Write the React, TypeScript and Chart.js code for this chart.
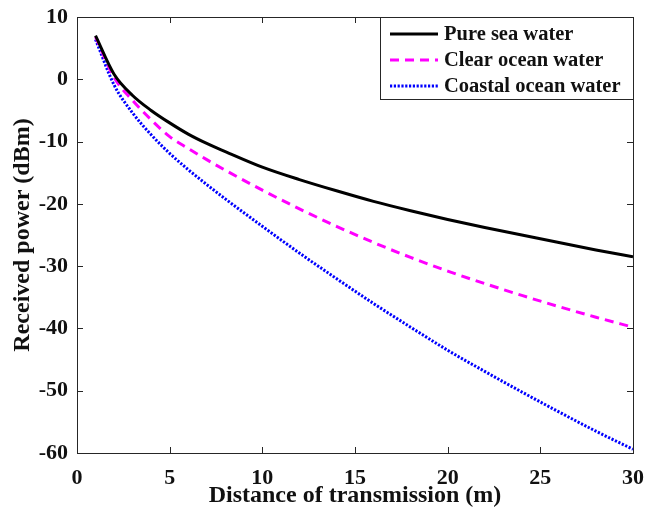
import React, { useEffect, useRef } from "react";
import { Chart, registerables } from "chart.js";

Chart.register(...registerables);

const distances = [1, 2, 3, 4, 5, 6, 7, 8, 10, 12, 14, 16, 18, 20, 22, 24, 26, 28, 30];
const pureSea = [7, 0.8, -2.6, -5.0, -7.0, -8.8, -10.3, -11.6, -14.1, -16.1, -17.9, -19.6, -21.1, -22.5, -23.8, -25.0, -26.2, -27.4, -28.5];
const clearOcean = [6.8, 0.3, -3.4, -6.5, -9.2, -11.1, -12.9, -14.6, -17.8, -20.8, -23.6, -26.2, -28.6, -30.8, -32.8, -34.7, -36.5, -38.2, -39.8];
const coastalOcean = [6.4, -0.9, -5.4, -8.9, -11.9, -14.5, -16.9, -19.2, -23.6, -27.9, -32.0, -36.0, -39.8, -43.5, -46.9, -50.2, -53.4, -56.5, -59.4];
const seriesLabels = ["Pure sea water", "Clear ocean water", "Coastal ocean water"];
const xTickValues = [0, 5, 10, 15, 20, 25, 30];
const yTickValues = [10, 0, -10, -20, -30, -40, -50, -60];

const FONT = "'Liberation Serif', 'Times New Roman', serif";
const AXIS_COLOR = "#262626";

const framePlugin = {
  id: "matlabFrame",
  afterDatasetsDraw(chart: any) {
    const { ctx, chartArea: a, scales } = chart;
    ctx.save();
    ctx.strokeStyle = AXIS_COLOR;
    ctx.lineWidth = 1;
    const tl = 6;
    ctx.beginPath();
    for (const v of xTickValues) {
      const px = Math.round(scales.x.getPixelForValue(v)) + 0.5;
      ctx.moveTo(px, a.bottom);
      ctx.lineTo(px, a.bottom - tl);
      ctx.moveTo(px, a.top);
      ctx.lineTo(px, a.top + tl);
    }
    for (const v of yTickValues) {
      const py = Math.round(scales.y.getPixelForValue(v)) + 0.5;
      ctx.moveTo(a.left, py);
      ctx.lineTo(a.left + tl, py);
      ctx.moveTo(a.right, py);
      ctx.lineTo(a.right - tl, py);
    }
    ctx.stroke();
    ctx.strokeRect(Math.round(a.left) + 0.5, Math.round(a.top) + 0.5, Math.round(a.right - a.left), Math.round(a.bottom - a.top));
    ctx.restore();
  },
};

const legendPlugin = {
  id: "boxLegend",
  afterDraw(chart: any) {
    const { ctx, chartArea: a } = chart;
    const boxL = 380.5;
    const boxT = Math.round(a.top) + 0.5;
    const boxR = Math.round(a.right) + 0.5;
    const boxB = 99.5;
    ctx.save();
    ctx.fillStyle = "#ffffff";
    ctx.fillRect(boxL, boxT, boxR - boxL, boxB - boxT);
    ctx.strokeStyle = AXIS_COLOR;
    ctx.lineWidth = 1;
    ctx.strokeRect(boxL, boxT, boxR - boxL, boxB - boxT);
    const rows = [34, 60, 86];
    chart.data.datasets.forEach((ds: any, i: number) => {
      const y = rows[i];
      ctx.save();
      ctx.strokeStyle = ds.borderColor;
      ctx.lineWidth = ds.borderWidth;
      ctx.setLineDash(ds.borderDash || []);
      ctx.beginPath();
      ctx.moveTo(390, y);
      ctx.lineTo(438, y);
      ctx.stroke();
      ctx.restore();
      ctx.fillStyle = "#111111";
      ctx.font = `bold 20.5px ${FONT}`;
      ctx.textBaseline = "middle";
      ctx.textAlign = "left";
      ctx.fillText(ds.label, 444, y + 1);
    });
    ctx.restore();
  },
};

export default function App() {
  const ref = useRef<HTMLCanvasElement | null>(null);
  useEffect(() => {
    document.body.style.margin = "0";
    const canvas = ref.current;
    if (!canvas) return;
    const chart = new Chart(canvas, {
      type: "line",
      data: {
        datasets: [
          {
            label: seriesLabels[0],
            data: distances.map((d, i) => ({ x: d, y: pureSea[i] })),
            borderColor: "#000000",
            borderWidth: 3,
            pointRadius: 0,
            cubicInterpolationMode: "monotone",
          },
          {
            label: seriesLabels[1],
            data: distances.map((d, i) => ({ x: d, y: clearOcean[i] })),
            borderColor: "#ff00ff",
            borderWidth: 3,
            borderDash: [9, 6],
            pointRadius: 0,
            cubicInterpolationMode: "monotone",
          },
          {
            label: seriesLabels[2],
            data: distances.map((d, i) => ({ x: d, y: coastalOcean[i] })),
            borderColor: "#0000ff",
            borderWidth: 3,
            borderDash: [2.2, 1.6],
            pointRadius: 0,
            cubicInterpolationMode: "monotone",
          },
        ],
      },
      options: {
        animation: false,
        responsive: false,
        maintainAspectRatio: false,
        layout: { padding: { top: 17, right: 14, bottom: 0, left: 0 } },
        plugins: { legend: { display: false }, tooltip: { enabled: false } },
        scales: {
          x: {
            type: "linear",
            min: 0,
            max: 30,
            afterBuildTicks: (s: any) => {
              s.ticks = xTickValues.map((v) => ({ value: v }));
            },
            afterFit: (s: any) => {
              s.height = 62;
              s.paddingLeft = 0;
              s.paddingRight = 0;
            },
            grid: { display: false, drawTicks: false },
            border: { display: false },
            ticks: {
              color: "#111111",
              padding: 12,
              font: { family: FONT, size: 22, weight: "bold" },
              maxRotation: 0,
            },
            title: {
              display: true,
              text: "Distance of transmission (m)",
              color: "#111111",
              font: { family: FONT, size: 24, weight: "bold" },
              padding: { top: 0, bottom: 5 },
            },
          },
          y: {
            type: "linear",
            min: -60,
            max: 10,
            afterBuildTicks: (s: any) => {
              s.ticks = yTickValues.map((v) => ({ value: v }));
            },
            afterFit: (s: any) => {
              s.width = 77;
              s.paddingTop = 0;
              s.paddingBottom = 0;
            },
            grid: { display: false, drawTicks: false },
            border: { display: false },
            ticks: {
              color: "#111111",
              padding: 9,
              font: { family: FONT, size: 22, weight: "bold" },
            },
            title: {
              display: true,
              text: "Received power (dBm)",
              color: "#111111",
              font: { family: FONT, size: 24, weight: "bold" },
              padding: { top: 8, bottom: 0 },
            },
          },
        },
      },
      plugins: [framePlugin, legendPlugin],
    });
    return () => chart.destroy();
  }, []);
  return (
    <div style={{ width: 647, height: 515 }}>
      <canvas ref={ref} width={647} height={515} style={{ display: "block" }} />
    </div>
  );
}
